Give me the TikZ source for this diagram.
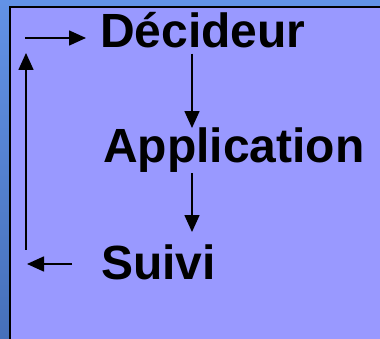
\documentclass[tikz,border=0pt]{standalone}
\usepackage{fontspec}
\setmainfont{Liberation Sans}
\usepackage{tikz}
\usetikzlibrary{arrows.meta, positioning}
\definecolor{lavbox}{RGB}{153,153,255}
\definecolor{bgtop}{RGB}{98,146,230}
\definecolor{bgbot}{RGB}{70,112,186}
\tikzset{
    word/.style={inner sep=0pt, anchor=base west, font=\bfseries\fontsize{48}{56}\selectfont},
    flow/.style={->, line width=1.6pt}
}

\begin{document}
\begin{tikzpicture}[x=1pt, y=1pt, >={Triangle[length=17pt, width=15pt]}]
        \useasboundingbox (0,0) rectangle (380,339);
        % Background
        \shade[top color=bgtop, bottom color=bgbot] (0,0) rectangle (380,339);
        \draw[line width=1.6pt, fill=lavbox] (10,-5) rectangle (390,332);

        % Nodes
        \node[word] (dec) at (100,291) {Décideur};
        \node[word] (app) at (103,176) {Application};
        \node[word] (suivi) at (101,59) {Suivi};

        \coordinate (col) at (192,0);
        \coordinate (lbot) at (26,89);
        \coordinate (ltop) at (26,286);
        \coordinate (tstart) at (25,301);
        \coordinate (lend) at (27,75);

        % Directed edges
        \draw[flow, shorten <=5pt] (dec.south -| col) -- (app.north -| col);
        \draw[flow, shorten >=13pt] (app.south -| col) -- (suivi.north -| col);
        \draw[flow, shorten <=29pt] (suivi.west |- lend) -- (lend);
        \draw[flow] (lbot) -- (ltop);
        \draw[flow, shorten >=14pt] (tstart) -- (tstart -| dec.west);
    \end{tikzpicture}
\end{document}
